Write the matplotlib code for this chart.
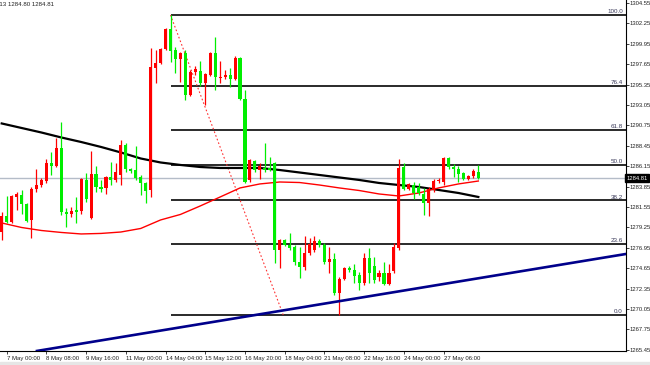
import matplotlib
matplotlib.use("Agg")
import matplotlib.pyplot as plt
import numpy as np

plt.rcParams['font.family'] = ['Liberation Sans', 'DejaVu Sans']

# ---- data (H4 candles) ----
opens = [1278.73, 1280.54, 1279.86, 1282.68, 1282.91, 1281.89, 1280.09, 1283.58, 1284.03, 1284.48,
         1286.51, 1286.18, 1288.20, 1280.99, 1280.76, 1281.21, 1281.10, 1284.60, 1280.31, 1285.27,
         1283.81, 1283.70, 1284.93, 1284.60, 1285.16, 1288.54, 1285.84, 1285.72, 1284.93, 1284.26,
         1283.47, 1297.22, 1297.79, 1299.37, 1301.62, 1299.25, 1298.24, 1298.92, 1294.18, 1296.77,
         1296.89, 1295.53, 1296.43, 1298.92, 1296.10, 1296.21, 1296.43, 1295.98, 1298.35, 1293.73,
         1284.60, 1286.74, 1285.72, 1285.95, 1285.95, 1286.51, 1276.71, 1277.83, 1277.27, 1277.04,
         1275.35, 1274.79, 1276.37, 1276.71, 1277.72, 1277.27, 1275.35, 1275.69, 1271.86, 1273.44,
         1274.68, 1274.45, 1273.89, 1272.98, 1275.80, 1274.90, 1273.66, 1274.11, 1272.87, 1274.34,
         1276.93, 1286.06, 1283.58, 1284.03, 1283.81, 1283.02, 1282.00, 1283.47, 1284.48, 1284.37,
         1287.08, 1286.06, 1285.84, 1285.39, 1284.71, 1285.05, 1285.50]
highs = [1280.99, 1282.79, 1282.91, 1283.24, 1283.47, 1282.00, 1283.81, 1285.84, 1284.82, 1286.96,
         1287.75, 1289.33, 1291.14, 1281.44, 1281.55, 1282.68, 1284.82, 1285.39, 1287.87, 1286.18,
         1284.60, 1285.05, 1286.63, 1286.51, 1289.11, 1288.77, 1285.95, 1288.43, 1285.16, 1284.37,
         1299.48, 1299.25, 1299.48, 1301.73, 1303.20, 1299.59, 1299.03, 1299.25, 1297.00, 1297.45,
         1298.01, 1296.66, 1299.03, 1300.72, 1298.01, 1297.00, 1297.22, 1298.58, 1298.46, 1294.74,
         1286.96, 1286.85, 1286.51, 1288.77, 1287.19, 1286.60, 1277.95, 1277.95, 1278.62, 1277.27,
         1277.04, 1278.28, 1278.06, 1278.28, 1277.95, 1277.49, 1277.04, 1276.37, 1273.66, 1274.79,
         1274.90, 1275.13, 1274.22, 1276.37, 1276.93, 1275.92, 1274.45, 1275.35, 1275.13, 1277.49,
         1286.96, 1286.51, 1284.26, 1284.37, 1284.26, 1283.70, 1283.81, 1284.71, 1284.82, 1287.19,
         1287.19, 1286.40, 1286.18, 1285.50, 1285.16, 1285.84, 1286.29]
lows = [1277.83, 1279.75, 1279.75, 1281.21, 1280.76, 1279.86, 1278.06, 1283.24, 1283.81, 1284.26,
        1285.16, 1286.06, 1280.65, 1279.30, 1280.43, 1279.75, 1280.76, 1282.12, 1280.20, 1283.24,
        1283.24, 1283.02, 1284.03, 1284.37, 1284.03, 1285.50, 1285.39, 1284.60, 1282.91, 1282.00,
        1282.68, 1295.53, 1297.67, 1299.25, 1297.90, 1296.66, 1295.65, 1293.62, 1294.07, 1296.43,
        1295.19, 1293.05, 1296.32, 1294.74, 1295.53, 1295.98, 1295.08, 1295.87, 1293.62, 1284.26,
        1284.37, 1285.50, 1284.71, 1285.50, 1285.61, 1275.24, 1274.68, 1277.16, 1276.71, 1275.01,
        1273.55, 1274.45, 1276.14, 1276.48, 1277.04, 1275.13, 1274.11, 1271.63, 1269.38, 1273.32,
        1274.22, 1272.98, 1272.20, 1272.76, 1272.98, 1272.98, 1273.21, 1272.76, 1272.76, 1274.11,
        1276.71, 1283.47, 1283.47, 1282.45, 1282.91, 1280.65, 1280.54, 1283.24, 1284.26, 1284.03,
        1285.84, 1284.93, 1284.37, 1284.60, 1284.60, 1284.82, 1284.71]
closes = [1280.54, 1279.86, 1282.79, 1283.02, 1281.89, 1279.97, 1283.58, 1284.03, 1284.60, 1286.51,
          1286.18, 1288.20, 1280.99, 1280.76, 1281.10, 1280.99, 1284.71, 1282.45, 1285.27, 1283.81,
          1283.58, 1284.93, 1284.60, 1285.50, 1288.54, 1285.84, 1285.61, 1284.82, 1284.26, 1283.36,
          1297.34, 1297.79, 1299.37, 1301.62, 1299.14, 1298.24, 1298.92, 1294.18, 1296.77, 1297.11,
          1295.53, 1296.55, 1298.92, 1296.21, 1296.21, 1296.43, 1295.98, 1298.35, 1293.73, 1284.37,
          1286.85, 1285.72, 1286.18, 1285.72, 1285.72, 1276.71, 1277.83, 1277.27, 1276.93, 1275.35,
          1274.79, 1276.37, 1277.38, 1277.72, 1277.27, 1275.35, 1275.69, 1271.86, 1273.44, 1274.68,
          1274.45, 1273.77, 1272.98, 1275.80, 1274.11, 1273.32, 1274.11, 1272.87, 1274.11, 1277.04,
          1285.95, 1283.58, 1284.15, 1283.13, 1283.13, 1282.00, 1283.58, 1284.48, 1284.60, 1287.08,
          1286.06, 1285.84, 1285.27, 1284.71, 1285.05, 1285.61, 1284.81]

# moving averages read every 4 bars
ma_bars = [0, 4, 8, 12, 16, 20, 24, 28, 32, 36, 40, 44, 48, 52, 56, 60, 64, 68, 72, 76, 80, 84, 88, 92, 96]
ma_slow = [1290.97, 1290.46, 1289.95, 1289.39, 1288.88, 1288.32, 1287.70, 1287.02, 1286.57, 1286.29,
           1286.06, 1285.95, 1285.95, 1285.95, 1285.72, 1285.44, 1285.16, 1284.88, 1284.60, 1284.26,
           1284.03, 1283.81, 1283.47, 1283.13, 1282.68]
ma_fast = [1279.75, 1279.24, 1278.90, 1278.68, 1278.51, 1278.57, 1278.73, 1279.13, 1280.09, 1280.71,
           1281.67, 1282.68, 1283.70, 1284.15, 1284.37, 1284.31, 1284.03, 1283.70, 1283.41, 1283.02,
           1282.79, 1283.13, 1283.70, 1284.15, 1284.48]

# Fibonacci retracement
fib_high_bar, fib_high = 34, 1303.20
fib_low_bar, fib_low = 56.7, 1269.38
fib_levels = [0.0, 23.6, 38.2, 50.0, 61.8, 76.4, 100.0]

# trendline anchors
trend_bars = [7.1, 125.7]
trend_prices = [1265.32, 1276.25]

bid = 1284.81
header = "1284.13 1284.80 1284.81"

ytick_vals = [1304.55, 1302.25, 1299.95, 1297.65, 1295.35, 1293.05, 1290.75, 1288.45, 1286.15,
              1283.85, 1281.55, 1279.25, 1276.95, 1274.65, 1272.35, 1270.05, 1267.75, 1265.45]
xtick_bars = [1, 9, 17, 25, 33, 41, 49, 57, 65, 73, 81, 89]
xtick_labels = ["7 May 00:00", "8 May 08:00", "9 May 16:00", "11 May 00:00", "14 May 04:00",
                "15 May 12:00", "16 May 20:00", "18 May 04:00", "21 May 08:00", "22 May 16:00",
                "24 May 00:00", "27 May 06:00"]

# ---- figure ----
W, H = 650, 365
fig = plt.figure(figsize=(W / 100, H / 100), dpi=100)
ax_l, ax_r = 0.0, 625.7 / W
ax_b, ax_t = (H - 350.5) / H, 1.0
ax = fig.add_axes([ax_l, ax_b, ax_r - ax_l, ax_t - ax_b])
ax.set_xlim(-0.342, 125.68)
ax.set_ylim(1265.37, 1304.89)

# current price line
ax.axhline(bid, color='#b4bcc8', lw=1.0, zorder=1)

# fib levels
rng = fib_high - fib_low
for lv in fib_levels:
    p = fib_low + rng * lv / 100.0
    ax.plot([fib_high_bar, 125.68], [p, p], color='#2a2a2a', lw=1.4, zorder=2, solid_capstyle='butt')
    ax.text(125.1, p + 0.08, f"{lv:.1f}", ha='right', va='bottom', fontsize=4.5, color='#3a3a5a', zorder=6)
ax.plot([fib_high_bar, fib_low_bar], [fib_high, fib_low], color='#ff3030', lw=0.8, ls=(0, (1.5, 2)), zorder=3)

# moving averages
ax.plot(ma_bars, ma_slow, color='#000000', lw=1.6, zorder=3)
ax.plot(ma_bars, ma_fast, color='#ff0000', lw=1.0, zorder=3)

# candles
idx = np.arange(len(opens))
o = np.array(opens); h = np.array(highs); l = np.array(lows); c = np.array(closes)
up = c >= o
cols = np.where(up, '#ff0000', '#00ee00')
ax.vlines(idx, l, h, colors=cols, lw=0.9, zorder=4)
bottoms = np.minimum(o, c)
heights = np.maximum(np.abs(c - o), 0.12)
ax.bar(idx, heights, bottom=bottoms, width=0.62, color=cols, edgecolor='none', zorder=5)

# trendline
ax.plot(trend_bars, trend_prices, color='#00008b', lw=1.9, zorder=4)

# axes styling
for s in ['left', 'top']:
    ax.spines[s].set_visible(False)
ax.spines['right'].set_color('#000000'); ax.spines['right'].set_linewidth(0.8)
ax.spines['bottom'].set_color('#000000'); ax.spines['bottom'].set_linewidth(0.8)
ax.yaxis.tick_right()
ax.set_yticks(ytick_vals)
ax.set_yticklabels([f"{v:.2f}" for v in ytick_vals])
ax.tick_params(axis='y', direction='out', length=2.0, width=0.6, pad=1.0, labelsize=4.2, colors='#222222')
ax.set_xticks(xtick_bars)
ax.set_xticklabels(xtick_labels)
ax.tick_params(axis='x', direction='out', length=2.5, width=0.6, pad=1.5, labelsize=4.3, colors='#222222')
for lab in ax.get_xticklabels():
    lab.set_horizontalalignment('left')

# bid label box
ax.text(1.0 + 0.001, bid, f"{bid:.2f}", transform=ax.get_yaxis_transform(), ha='left', va='center',
        fontsize=4.2, color='white', zorder=10,
        bbox=dict(boxstyle='square,pad=0.3', fc='black', ec='black'))

# header text
fig.text(-0.024, 1 - 4 / H, header, ha='left', va='center', fontsize=4.4, color='#222222')

# bottom gray strip
fig.patches.append(plt.Rectangle((0, 0), 1, 3 / H, transform=fig.transFigure, color='#e6e6e6', zorder=0))

fig.savefig('out.png', dpi=100, facecolor='white')
